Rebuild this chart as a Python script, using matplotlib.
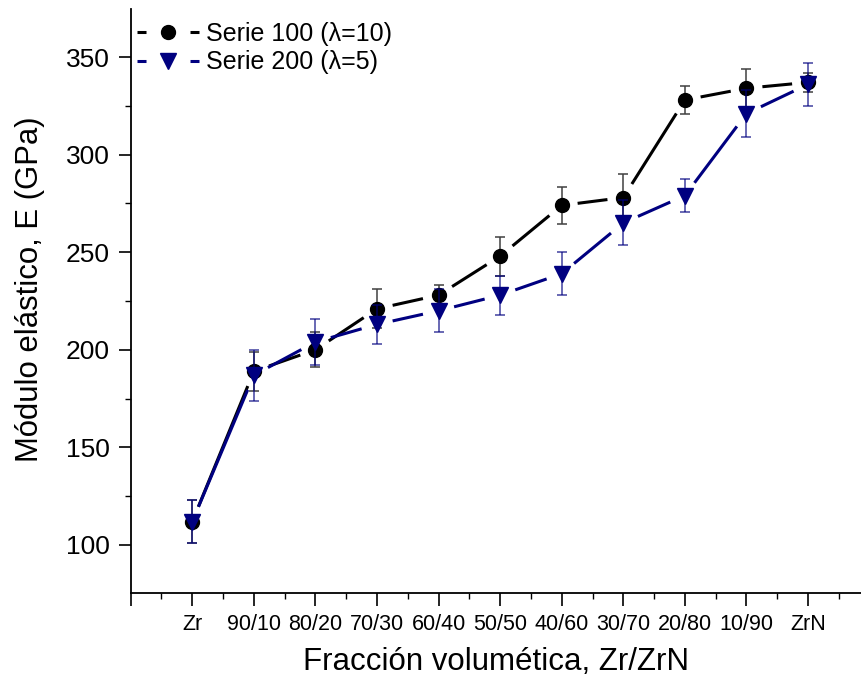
"""
Elastic modulus vs. volume fraction (Zr/ZrN multilayers)
Two series with error bars, Origin-style lines with gaps at the symbols.
"""

import numpy as np
import matplotlib
matplotlib.use("Agg")
import matplotlib.pyplot as plt
from matplotlib.lines import Line2D
from matplotlib.ticker import MultipleLocator, FixedLocator

# ─── Data ────────────────────────────────────────────────────────────────────

fractions = ["Zr", "90/10", "80/20", "70/30", "60/40", "50/50",
             "40/60", "30/70", "20/80", "10/90", "ZrN"]

e_serie100 = [112, 189, 200, 221, 228, 248, 274, 278, 328, 334, 337]
err_serie100 = [11, 10, 9, 10, 5, 10, 9.5, 12, 7, 10, 5]

e_serie200 = [112, 187, 204, 213, 220, 228, 239, 265, 279, 321, 336]
err_serie200 = [11, 13, 12, 10, 11, 10, 11, 11.5, 8.5, 12, 11]

BLACK = "#000000"
NAVY = "#000080"
GAP_PX = 16  # gap between line ends and symbol centres

plt.rcParams["font.family"] = ["Liberation Sans", "DejaVu Sans"]

fig = plt.figure(figsize=(8.61, 6.76), dpi=100)
ax = fig.add_axes([0.1518, 0.1228, 0.8482, 0.8639])

x = np.arange(1, len(fractions) + 1)
ax.set_xlim(0, 11.86)
ax.set_ylim(75.4, 374.6)


def gapped_line(xs, ys, color, gap_px=GAP_PX, zorder=2):
    """Draw a polyline whose segments stop short of each data point."""
    pts = ax.transData.transform(np.column_stack([xs, ys]))
    inv = ax.transData.inverted()
    for p0, p1 in zip(pts[:-1], pts[1:]):
        d = p1 - p0
        u = d / np.hypot(*d)
        seg = inv.transform([p0 + u * gap_px, p1 - u * gap_px])
        ax.plot(seg[:, 0], seg[:, 1], color=color, lw=2.2,
                solid_capstyle="butt", zorder=zorder)


# Serie 100
ax.errorbar(x, e_serie100, yerr=err_serie100, fmt="none", ecolor="#404040",
            elinewidth=1.1, capsize=3.6, capthick=1.1, zorder=2)
gapped_line(x, e_serie100, BLACK)
ax.plot(x, e_serie100, "o", color=BLACK, ms=10, zorder=3)

# Serie 200
ax.errorbar(x, e_serie200, yerr=err_serie200, fmt="none", ecolor=NAVY,
            alpha=0.75, elinewidth=1.1, capsize=3.6, capthick=1.1, zorder=4)
gapped_line(x, e_serie200, NAVY, zorder=4)
ax.plot(x, e_serie200, "v", color=NAVY, ms=11, zorder=5)

# ─── Axes styling ────────────────────────────────────────────────────────────

for side in ("top", "right"):
    ax.spines[side].set_visible(False)
for side in ("left", "bottom"):
    ax.spines[side].set_linewidth(1.3)

ax.xaxis.set_major_locator(FixedLocator(range(0, len(fractions) + 1)))
ax.set_xticklabels([""] + fractions, fontsize=15.5)
ax.xaxis.set_minor_locator(MultipleLocator(0.5))
ax.yaxis.set_major_locator(MultipleLocator(50))
ax.yaxis.set_minor_locator(MultipleLocator(25))
for lbl in ax.get_yticklabels():
    lbl.set_fontsize(19)

ax.tick_params(which="major", direction="out", length=9, width=1.2, pad=6)
ax.tick_params(which="minor", direction="out", length=4.5, width=1.0)

ax.set_xlabel("Fracción volumética, Zr/ZrN", fontsize=22.5, labelpad=9)
ax.set_ylabel("Módulo elástico, E (GPa)", fontsize=22.4)
ax.yaxis.set_label_coords(-0.118, 0.52)

handles = [
    Line2D([], [], color=BLACK, lw=2.2, ls=(0, (2.95, 14.4)),
           marker="o", ms=10),
    Line2D([], [], color=NAVY, lw=2.2, ls=(0, (2.95, 14.4)),
           marker="v", ms=11),
]
ax.legend(handles, ["Serie 100 (λ=10)", "Serie 200 (λ=5)"],
          loc="upper left", bbox_to_anchor=(0.0, 0.988), frameon=False,
          fontsize=18, handlelength=2.48, handletextpad=0.3,
          labelspacing=0.17, borderaxespad=0.1, borderpad=0.15)

fig.savefig("out.png", dpi=100)
